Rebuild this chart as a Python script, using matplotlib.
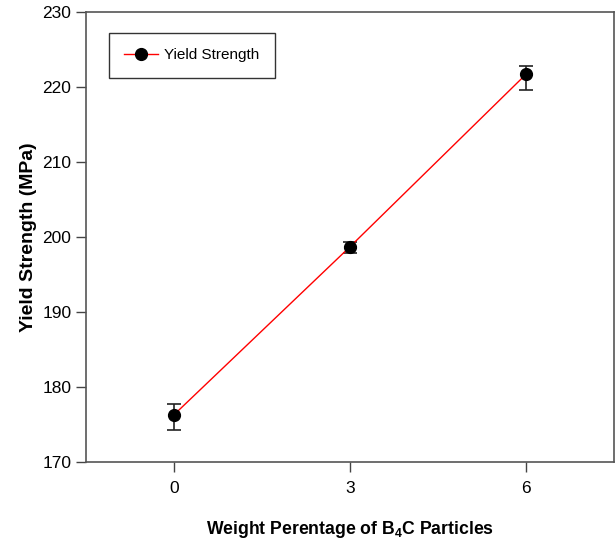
import numpy as np
import matplotlib
matplotlib.use('Agg')
import matplotlib.pyplot as plt

plt.rcParams['font.family'] = ['Liberation Sans', 'DejaVu Sans']
plt.rcParams['mathtext.fontset'] = 'custom'
plt.rcParams['mathtext.rm'] = 'Liberation Sans'
plt.rcParams['mathtext.bf'] = 'Liberation Sans:bold'

# data
wt = [0, 3, 6]
ys = [176.3, 198.7, 221.7]
err_lo = [2.0, 0.8, 2.1]
err_hi = [1.5, 0.7, 1.1]

fig = plt.figure(figsize=(6.15, 5.41), dpi=100)
ax = fig.add_axes([86/615, 79/541, 528/615, 450/541])

ax.plot(wt, ys, color='red', lw=1.0, zorder=2, label='Yield Strength',
        marker='o', markersize=8.5, markerfacecolor='black', markeredgecolor='black')
ax.errorbar(wt, ys, yerr=[err_lo, err_hi], fmt='none', ecolor='#222222',
            elinewidth=1.2, capsize=5, capthick=1.2, zorder=1)

ax.set_xlim(-1.5, 7.5)
ax.set_ylim(170, 230)
ax.set_xticks(wt)
ax.set_yticks(np.arange(170, 231, 10))
ax.tick_params(direction='out', length=7, width=1, labelsize=12.5, color='#444444')
ax.tick_params(axis='x', pad=7)
for s in ax.spines.values():
    s.set_color('#555555')
    s.set_linewidth(1.2)

ax.set_xlabel('Weight Perentage of B$_\\mathbf{4}$C Particles', fontsize=12.7,
              fontweight='bold', labelpad=16)
ax.set_ylabel('Yield Strength (MPa)', fontsize=14, fontweight='bold', labelpad=4)

leg = ax.legend(loc='upper left', bbox_to_anchor=(0.0436, 0.953), fontsize=11,
                fancybox=False, edgecolor='#333333', framealpha=1, borderaxespad=0,
                handlelength=2.2, borderpad=1.0, handletextpad=0.4)
leg.get_frame().set_linewidth(1.0)

fig.savefig('out.png', dpi=100)
